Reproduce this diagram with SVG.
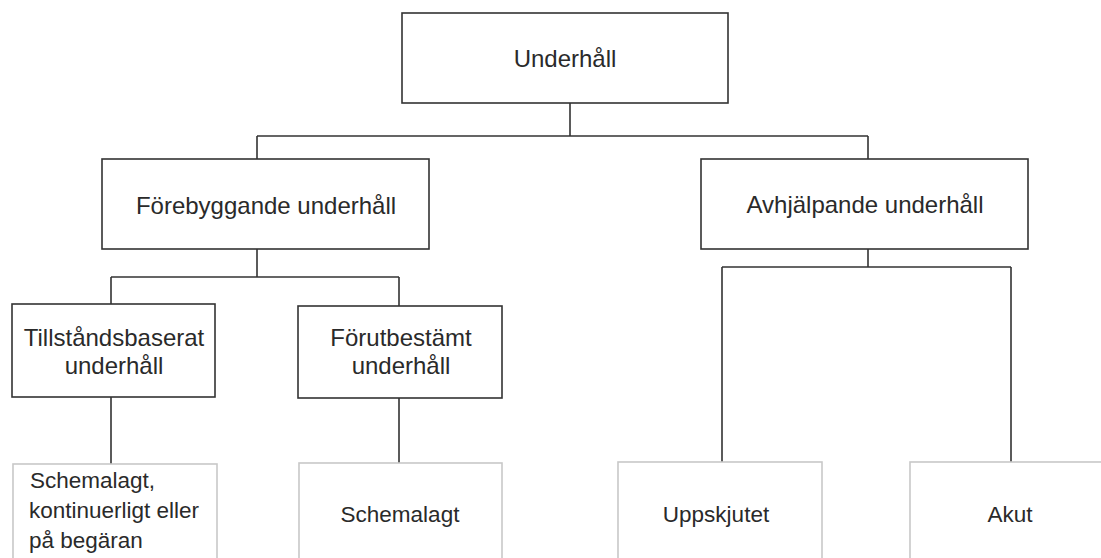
<svg xmlns="http://www.w3.org/2000/svg" width="1101" height="558" viewBox="0 0 1101 558">
  <style>
    .box { fill: #ffffff; stroke: #333333; stroke-width: 1.6; }
    .leaf { fill: #ffffff; stroke: #c8c8c8; stroke-width: 1.6; }
    .wire { fill: none; stroke: #333333; stroke-width: 1.6; }
    text { font-family: "Liberation Sans", Arial, sans-serif; font-size: 24px; fill: #2a2a2a; }
    .c { text-anchor: middle; }
    .s { font-size: 22.5px; }
  </style>
  <rect width="1101" height="558" fill="#ffffff"/>

  <g id="connectors">
    <path class="wire" d="M570 103 V136 M257 136 H868 M257 136 V159 M868 136 V159"/>
    <path class="wire" d="M257 249 V277 M111 277 H399 M111 277 V304 M399 277 V306"/>
    <path class="wire" d="M868 249 V267 M722 267 H1011 M722 267 V462 M1011 267 V462"/>
    <path class="wire" d="M111 397 V464 M399 398 V463"/>
  </g>

  <g id="underhall">
    <rect class="box" x="402" y="13" width="326" height="90"/>
    <text class="c" x="565" y="67">Underhåll</text>
  </g>

  <g id="forebyggande">
    <rect class="box" x="102" y="159" width="327" height="90"/>
    <text class="c" x="266" y="214">Förebyggande underhåll</text>
  </g>

  <g id="avhjalpande">
    <rect class="box" x="701" y="159" width="327" height="90"/>
    <text class="c" x="865" y="213">Avhjälpande underhåll</text>
  </g>

  <g id="tillstandsbaserat">
    <rect class="box" x="12" y="304" width="203" height="93"/>
    <text class="c" x="114" y="346">Tillståndsbaserat</text>
    <text class="c" x="114" y="374">underhåll</text>
  </g>

  <g id="forutbestamt">
    <rect class="box" x="298" y="306" width="204" height="92"/>
    <text class="c" x="401" y="346">Förutbestämt</text>
    <text class="c" x="401" y="374">underhåll</text>
  </g>

  <g id="schemalagt-kontinuerligt">
    <rect class="leaf" x="13" y="464" width="204" height="110"/>
    <text class="s" x="30" y="488">Schemalagt,</text>
    <text class="s" x="29" y="518">kontinuerligt eller</text>
    <text class="s" x="29" y="548">på begäran</text>
  </g>

  <g id="schemalagt">
    <rect class="leaf" x="299" y="463" width="203" height="110"/>
    <text class="c s" x="400" y="522">Schemalagt</text>
  </g>

  <g id="uppskjutet">
    <rect class="leaf" x="618" y="462" width="204" height="110"/>
    <text class="c s" x="716" y="522">Uppskjutet</text>
  </g>

  <g id="akut">
    <rect class="leaf" x="910" y="462" width="204" height="110"/>
    <text class="c s" x="1010" y="522">Akut</text>
  </g>
</svg>
